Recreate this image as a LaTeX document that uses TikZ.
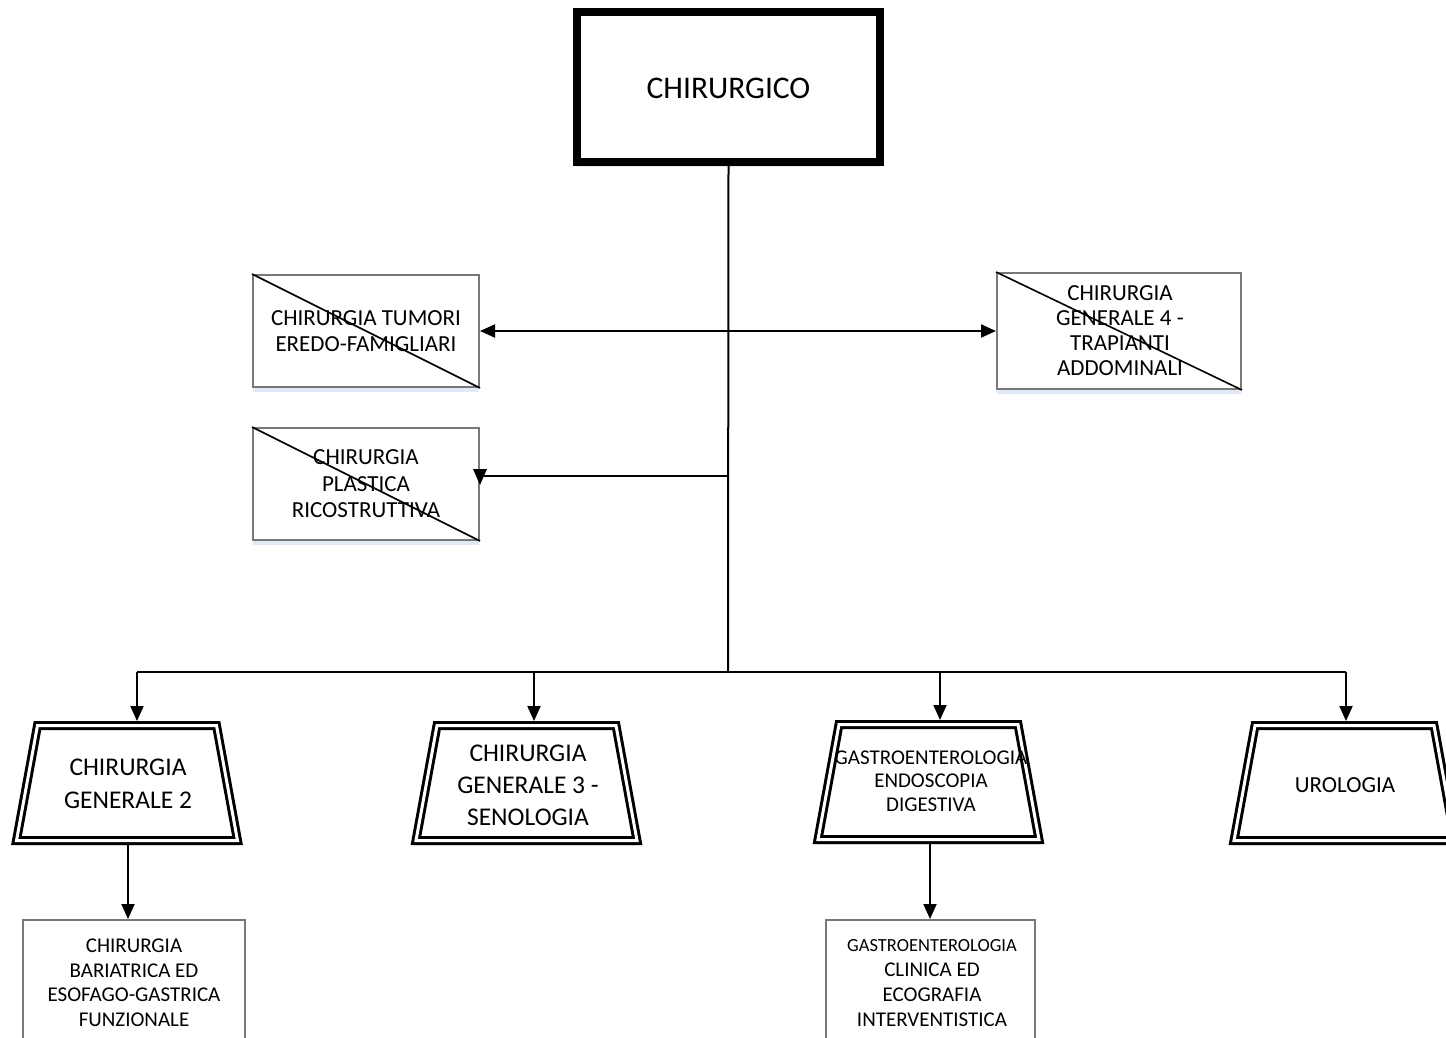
\documentclass[tikz,border=0pt]{standalone}
\usepackage{fontspec}
\setmainfont{Carlito}
\usetikzlibrary{arrows.meta,shadows,calc}
\definecolor{shblue}{RGB}{224,234,247}
\definecolor{boxgray}{RGB}{120,120,120}
\newcommand\mytrap[3]{%
  \coordinate (#3) at (#1,#2);
  \draw[trapline] ($(#3)+(-89.5,-57.5)$) -- ($(#3)+(89.5,-57.5)$) -- ($(#3)+(110.5,57.5)$) -- ($(#3)+(-110.5,57.5)$) -- cycle;
  \coordinate (#3-top) at ($(#3)+(0,-62)$);
  \coordinate (#3-bot) at ($(#3)+(0,62)$);
}
\begin{document}
\begin{tikzpicture}[x=1pt,y=-1pt,
  conn/.style={line width=2pt, black},
  tip/.style={-{Triangle[length=15pt,width=13pt]}},
  arr/.style={conn,tip},
  softsh/.style={general shadow={fill=shblue, shadow yshift=-5pt}},
  mainbox/.style={draw, line width=8pt, fill=white, minimum width=303pt, minimum height=150pt, inner sep=0pt, softsh},
  graybox/.style={draw=boxgray, line width=2pt, fill=white, inner sep=0pt, softsh},
  trapline/.style={draw, line width=3pt, double, double distance=3pt, fill=white, line join=miter, softsh},
  txt/.style={align=center, inner sep=0pt},
  diag/.style={line width=1.6pt, black}
]
\useasboundingbox (0,0) rectangle (1446,1037);
\clip (0,0) rectangle (1446,1037);

% top box
\node[mainbox] (main) at (728.5,87) {};
\node[txt, font=\fontsize{31.5}{36}\selectfont] (maint) at (728.5,88) {CHIRURGICO};

% side boxes
\node[graybox, minimum width=226pt, minimum height=112pt] (tum) at (366,331) {};
\draw[diag] (tum.north west) -- (tum.south east);
\node[txt, font=\fontsize{23}{26.5}\selectfont] (tumt) at (366,331) {CHIRURGIA TUMORI\\EREDO-FAMIGLIARI};

\node[graybox, minimum width=226pt, minimum height=112pt] (plas) at (366,484) {};
\draw[diag] (plas.north west) -- (plas.south east);
\node[txt, font=\fontsize{23}{26.5}\selectfont] (plast) at (366,484) {CHIRURGIA\\PLASTICA\\RICOSTRUTTIVA};

\node[graybox, minimum width=244pt, minimum height=116pt] (rb) at (1119,331) {};
\draw[diag] (rb.north west) -- (rb.south east);
\node[txt, font=\fontsize{23}{25}\selectfont] (rbt) at (1120,331) {CHIRURGIA\\GENERALE 4 -\\TRAPIANTI\\ADDOMINALI};

% trapezoids
\mytrap{127}{783}{t1}
\node[txt, font=\fontsize{25.5}{32.5}\selectfont] (t1t) at (128,784) {CHIRURGIA\\GENERALE 2};
\mytrap{526.5}{783}{t2}
\node[txt, font=\fontsize{25.5}{32}\selectfont] (t2t) at (528,785) {CHIRURGIA\\GENERALE 3 -\\SENOLOGIA};
\mytrap{928.5}{782}{t3}
\node[txt, font=\fontsize{21}{23.5}\selectfont] (t3t) at (931,781) {GASTROENTEROLOGIA\\ENDOSCOPIA\\DIGESTIVA};
\mytrap{1344.5}{783}{t4}
\node[txt, font=\fontsize{23}{27}\selectfont] (t4t) at (1345,785) {UROLOGIA};

% bottom boxes
\node[graybox, minimum width=222pt, minimum height=150pt] (b1) at (134,995) {};
\node[txt, font=\fontsize{21}{24.5}\selectfont] (b1t) at (134,982.5) {CHIRURGIA\\BARIATRICA ED\\ESOFAGO-GASTRICA\\FUNZIONALE};
\node[graybox, minimum width=209pt, minimum height=150pt] (b2) at (930.5,995) {};
\node[txt, font=\fontsize{21}{25}\selectfont] (b2t) at (932,983) {{\fontsize{18.5}{25}\selectfont GASTROENTEROLOGIA}\\CLINICA ED\\ECOGRAFIA\\INTERVENTISTICA};

% connectors
\coordinate (jb) at (728,672);
\coordinate (jp) at (728,476);
\draw[conn] (main.south) -- (jb);
\draw[conn, {Triangle[length=15pt,width=13pt]}-{Triangle[length=15pt,width=13pt]}] (tum.east) -- (rb.west);
\draw[conn] (jp) -- (jp -| plas.east);
\fill ($(jp -| plas.east)+(-7,-7)$) -- ($(jp -| plas.east)+(7,-7)$) -- ($(jp -| plas.east)+(0,9)$) -- cycle;

\coordinate (d1) at (137,672);
\coordinate (d2) at (534,672);
\coordinate (d3) at (940,672);
\coordinate (d4) at (1346,672);
\draw[conn] (d1) -- (d4);
\draw[arr] (d1) -- (d1 |- t1-top);
\draw[arr] (d2) -- (d2 |- t2-top);
\draw[arr] (d3) -- (d3 |- t3-top);
\draw[arr] (d4) -- (d4 |- t4-top);

\coordinate (u1) at (128,845);
\coordinate (u3) at (930,843);
\draw[arr] (u1) -- (u1 |- b1.north);
\draw[arr] (u3) -- (u3 |- b2.north);
\end{tikzpicture}
\end{document}
